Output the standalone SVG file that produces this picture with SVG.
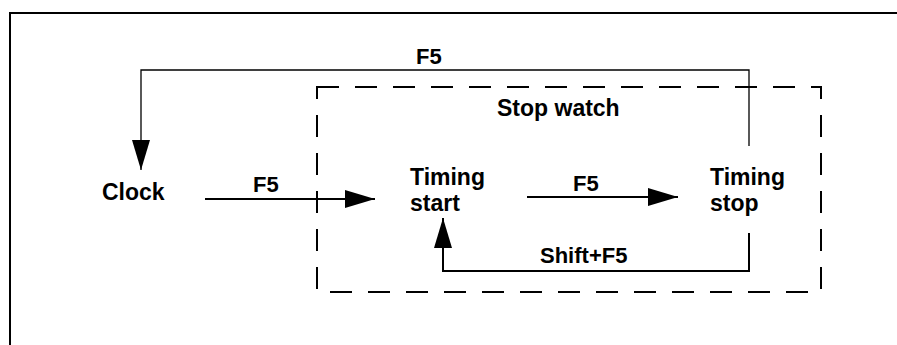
<svg xmlns="http://www.w3.org/2000/svg" width="897" height="345" viewBox="0 0 897 345">
<style>
text{font-family:"Liberation Sans",Arial,sans-serif;font-weight:bold;font-size:23px;fill:#000}
.lbl{font-size:22px}
.ln{fill:none;stroke:#000;stroke-width:2}
.thin{fill:none;stroke:#000;stroke-width:1.3}
</style>
<defs>
<marker id="ah" viewBox="0 0 30 18" refX="30" refY="9" markerWidth="30" markerHeight="18" markerUnits="userSpaceOnUse" orient="auto">
<path d="M0,0 L30,9 L0,18 Z" fill="#000"/>
</marker>
</defs>
<rect width="897" height="345" fill="#fff"/>
<path class="ln" d="M10,345 V13 H897" stroke-width="2.5"/>
<g id="stopwatch">
<rect x="317" y="87" width="504" height="205" fill="none" stroke="#000" stroke-width="2" stroke-dasharray="22,16"/>
<text x="497" y="116">Stop watch</text>
</g>
<g id="clock"><text x="102" y="200">Clock</text></g>
<g id="timing-start"><text x="410" y="185">Timing</text><text x="410" y="211">start</text></g>
<g id="timing-stop"><text x="710" y="185">Timing</text><text x="710" y="211">stop</text></g>
<g id="connectors">
<path class="thin" d="M749,146 V70 H141 V170" marker-end="url(#ah)"/>
<text class="lbl" x="416" y="64">F5</text>
<path class="ln" d="M205,199 H375" marker-end="url(#ah)"/>
<text class="lbl" x="253" y="192">F5</text>
<path class="ln" d="M527,197 H678" marker-end="url(#ah)"/>
<text class="lbl" x="573" y="191">F5</text>
<path class="ln" d="M749,233 V271 H443 V218" marker-end="url(#ah)"/>
<text class="lbl" x="540" y="263">Shift+F5</text>
</g>
</svg>
